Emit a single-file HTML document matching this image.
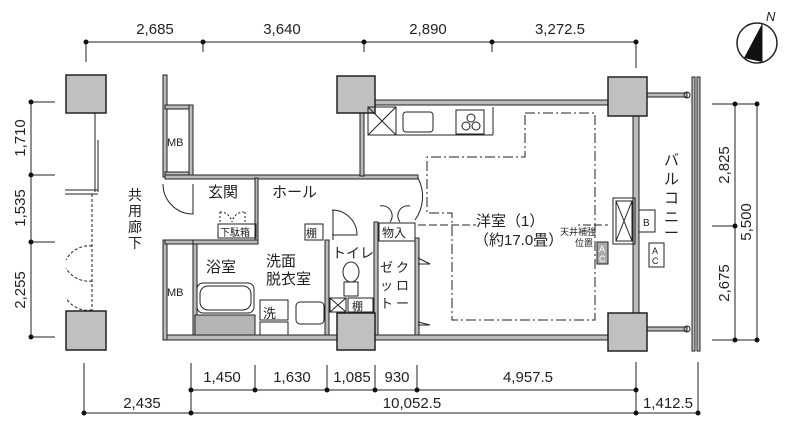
<!DOCTYPE html>
<html><head><meta charset="utf-8"><style>
html,body{margin:0;padding:0;background:#fff;}
svg{display:block;font-family:"Liberation Sans","Noto Sans CJK JP",sans-serif;}
</style></head><body>
<svg width="800" height="428" viewBox="0 0 800 428" xmlns="http://www.w3.org/2000/svg">
<g stroke="#222" fill="none" stroke-width="1">
<line x1="86" y1="42" x2="636" y2="42"/>
<line x1="86" y1="42" x2="86" y2="62"/>
<line x1="203" y1="42" x2="203" y2="52"/>
<line x1="364" y1="42" x2="364" y2="52"/>
<line x1="492" y1="42" x2="492" y2="52"/>
<line x1="636" y1="42" x2="636" y2="68"/>
<line x1="31" y1="102" x2="31" y2="337"/>
<line x1="31" y1="102" x2="55" y2="102"/><line x1="31" y1="175" x2="55" y2="175"/>
<line x1="31" y1="242" x2="55" y2="242"/><line x1="31" y1="337" x2="55" y2="337"/>
<line x1="735" y1="104" x2="735" y2="340"/><line x1="757" y1="104" x2="757" y2="340"/>
<line x1="712" y1="104" x2="757" y2="104"/><line x1="712" y1="226" x2="735" y2="226"/><line x1="712" y1="340" x2="757" y2="340"/>
<line x1="191" y1="390" x2="636" y2="390"/>
<line x1="84" y1="413" x2="698" y2="413"/>
<line x1="84" y1="363" x2="84" y2="413"/>
<line x1="191" y1="363" x2="191" y2="413"/>
<line x1="255" y1="365" x2="255" y2="390"/>
<line x1="327" y1="365" x2="327" y2="390"/>
<line x1="375" y1="365" x2="375" y2="390"/>
<line x1="417" y1="365" x2="417" y2="390"/>
<line x1="636" y1="362" x2="636" y2="413"/>
<line x1="698" y1="362" x2="698" y2="413"/>
</g>
<g fill="#111">
<circle cx="86" cy="42" r="2.5"/><circle cx="203" cy="42" r="2.5"/><circle cx="364" cy="42" r="2.5"/><circle cx="492" cy="42" r="2.5"/><circle cx="636" cy="42" r="2.5"/>
<circle cx="31" cy="102" r="2.5"/><circle cx="31" cy="175" r="2.5"/><circle cx="31" cy="242" r="2.5"/><circle cx="31" cy="337" r="2.5"/>
<circle cx="735" cy="104" r="2.5"/><circle cx="757" cy="104" r="2.5"/><circle cx="735" cy="226" r="2.5"/><circle cx="735" cy="340" r="2.5"/><circle cx="757" cy="340" r="2.5"/>
<circle cx="191" cy="390" r="2.5"/><circle cx="255" cy="390" r="2.5"/><circle cx="327" cy="390" r="2.5"/><circle cx="375" cy="390" r="2.5"/><circle cx="417" cy="390" r="2.5"/><circle cx="636" cy="390" r="2.5"/>
<circle cx="84" cy="413" r="2.5"/><circle cx="191" cy="413" r="2.5"/><circle cx="636" cy="413" r="2.5"/><circle cx="698" cy="413" r="2.5"/>
</g>
<g font-size="15" fill="#222" text-anchor="middle">
<text x="155" y="34">2,685</text><text x="282" y="34">3,640</text><text x="428" y="34">2,890</text><text x="560" y="34">3,272.5</text>
<text x="222" y="382">1,450</text><text x="292" y="382">1,630</text><text x="352" y="382">1,085</text><text x="397" y="382">930</text><text x="528" y="382">4,957.5</text>
<text x="142" y="408">2,435</text><text x="412" y="408">10,052.5</text><text x="668" y="408">1,412.5</text>
<text transform="translate(25,138) rotate(-90)">1,710</text>
<text transform="translate(25,208) rotate(-90)">1,535</text>
<text transform="translate(25,290) rotate(-90)">2,255</text>
<text transform="translate(729,165) rotate(-90)">2,825</text>
<text transform="translate(729,283) rotate(-90)">2,675</text>
<text transform="translate(751,222) rotate(-90)">5,500</text>
</g>
<circle cx="757" cy="43" r="20" fill="#fff" stroke="#222" stroke-width="1.5"/>
<path d="M762 24 L762 62 L744 58 Z" fill="#111"/>
<line x1="762" y1="24" x2="762" y2="62" stroke="#222"/>
<text x="766" y="21" font-size="13" fill="#222" font-style="italic">N</text>
<g fill="#bbb" stroke="#222" stroke-width="1">
<rect x="375" y="100" width="233" height="5"/>
<rect x="165" y="335" width="443" height="5"/>
<rect x="163" y="75" width="4" height="102"/>
<rect x="163" y="240" width="4" height="100"/>
<rect x="165" y="105" width="28" height="4"/><rect x="165" y="172" width="28" height="4"/>
<rect x="189" y="105" width="4" height="71"/>
<rect x="165" y="240" width="28" height="4"/>
<rect x="165" y="175" width="253" height="4"/>
<rect x="360" y="110" width="4" height="66"/>
<rect x="193" y="244" width="4" height="91"/>
<rect x="193" y="240" width="65" height="4"/>
<rect x="633" y="116" width="6" height="197"/>
<rect x="374" y="222" width="4" height="113"/>
<rect x="415" y="238" width="4" height="97"/>
<rect x="255" y="178" width="3" height="62"/>
<rect x="325" y="240" width="4" height="95"/>
<rect x="647" y="93" width="40" height="4"/><rect x="647" y="327" width="40" height="4"/>
<rect x="692" y="77" width="3" height="274"/><rect x="697" y="77" width="3" height="274"/>
</g>
<g fill="#c0c0c0" stroke="#222" stroke-width="1.5">
<rect x="66" y="75" width="40" height="38"/>
<rect x="66" y="311" width="40" height="39"/>
<rect x="337" y="76" width="38" height="37"/>
<rect x="337" y="313" width="38" height="37"/>
<rect x="608" y="77" width="39" height="39"/>
<rect x="608" y="313" width="39" height="38"/>
</g>
<g fill="none" stroke="#222" stroke-width="1">
<line x1="95" y1="113" x2="95" y2="192"/><line x1="98" y1="140" x2="98" y2="192"/>
<line x1="65" y1="190" x2="98" y2="190"/><line x1="65" y1="194" x2="98" y2="194"/>
<line x1="92" y1="194" x2="92" y2="311" stroke-dasharray="3,2"/>
<path d="M92 246 A26 26 0 0 0 66 260" stroke-dasharray="3,2"/>
<path d="M92 281 A26 26 0 0 1 66 268" stroke-dasharray="3,2"/>
<path d="M92 310 A26 26 0 0 1 66 298" stroke-dasharray="3,2"/>
<path d="M163 184 A30 30 0 0 0 193 214 L193 184"/>
<rect x="368" y="107" width="28" height="28"/><path d="M368 107 L396 135 M396 107 L368 135"/>
<rect x="403" y="112" width="30" height="20" rx="3"/>
<rect x="456" y="110" width="28" height="24"/>
<circle cx="466" cy="126" r="4"/><circle cx="476" cy="126" r="4"/><circle cx="471" cy="118" r="4"/>
<line x1="493" y1="107" x2="493" y2="135"/><line x1="396" y1="135" x2="493" y2="135"/>
<path d="M525 113 L595 113 L595 320 L452 320 L452 213 L427 213 L427 157 L525 157 Z" stroke-dasharray="10,3,2,3"/>
<line x1="418" y1="225" x2="608" y2="225" stroke-dasharray="8,3"/>
<path d="M418 178 A40 40 0 0 1 415 220"/>
<path d="M332 210 A25 25 0 0 1 357 235 L332 235"/>
<path d="M333 210 L333 240"/>
<path d="M380 206 A10 10 0 0 1 390 222 M410 206 A10 10 0 0 0 400 222"/>
<path d="M220 212 L220 222 M245 212 L245 222 M220 212 A12 12 0 0 1 232 222 A12 12 0 0 1 245 212" stroke-dasharray="2,2"/>
<rect x="218" y="224" width="38" height="14"/>
<rect x="305" y="224" width="18" height="16"/>
<rect x="348" y="298" width="25" height="14"/>
<rect x="330" y="298" width="16" height="14"/><path d="M330 298 L346 312 M346 298 L330 312"/>
<rect x="379" y="223" width="36" height="18"/>
<rect x="197" y="283" width="57" height="30" rx="6"/>
<rect x="200" y="286" width="51" height="24" rx="8"/>
<rect x="195" y="315" width="60" height="20" fill="#b5b5b5"/>
<rect x="260" y="300" width="28" height="20"/>
<rect x="296" y="302" width="28" height="22" rx="4"/>
<rect x="260" y="322" width="28" height="13"/>
<ellipse cx="351" cy="272" rx="8" ry="10"/><rect x="344" y="282" width="14" height="14"/>
<path d="M418 258 L430 264 L418 264 M418 322 L430 325 L418 325"/>
<rect x="613" y="198" width="22" height="46"/><rect x="616" y="201" width="16" height="40"/>
<path d="M616 201 L632 241 M632 201 L616 241"/>
<rect x="639" y="210" width="16" height="22"/>
<rect x="649" y="243" width="15" height="24"/>
<rect x="597" y="242" width="11" height="22" fill="#aaa"/>
<circle cx="687" cy="95" r="3"/><circle cx="687" cy="329" r="3"/>
</g>
<rect x="476" y="212" width="102" height="38" fill="#fff"/>
<g fill="#222" font-size="15">
<text x="208" y="197">玄関</text>
<text x="272" y="197">ホール</text>
<text x="206" y="272">浴室</text>
<text x="266" y="266">洗面</text>
<text x="266" y="284">脱衣室</text>
<text x="332" y="258" font-size="14">トイレ</text>
<text x="263" y="318" font-size="13">洗</text>
<text x="476" y="226">洋室（1）</text>
<text x="474" y="245">（約17.0畳）</text>
<text x="128" y="200" font-size="14">共</text><text x="128" y="216" font-size="14">用</text><text x="128" y="232" font-size="14">廊</text><text x="128" y="248" font-size="14">下</text>
<text x="664" y="165">バ</text><text x="664" y="184">ル</text><text x="664" y="203">コ</text><text x="664" y="222">ニ</text><text x="664" y="238">ー</text>
<text x="380" y="272" font-size="13">ゼ</text><text x="380" y="290" font-size="13">ッ</text><text x="380" y="308" font-size="13">ト</text>
<text x="396" y="272" font-size="13">ク</text><text x="396" y="290" font-size="13">ロ</text><text x="396" y="308" font-size="13">ー</text>
<text x="382" y="237" font-size="12">物入</text>
<text x="306" y="237" font-size="11">棚</text><text x="352" y="310" font-size="11">棚</text>
<text x="220" y="236" font-size="10">下駄箱</text>
<text x="560" y="235" font-size="9">天井補強</text>
<text x="575" y="246" font-size="9">位置</text>
<text x="167" y="146" font-size="11">MB</text><text x="167" y="296" font-size="11">MB</text>
<text x="643" y="226" font-size="10">B</text>
<text x="652" y="254" font-size="9">A</text><text x="652" y="264" font-size="9">C</text>
<text x="599" y="252" font-size="9" fill="#fff">A</text><text x="599" y="262" font-size="9" fill="#fff">C</text>
</g>
</svg>
</body></html>
